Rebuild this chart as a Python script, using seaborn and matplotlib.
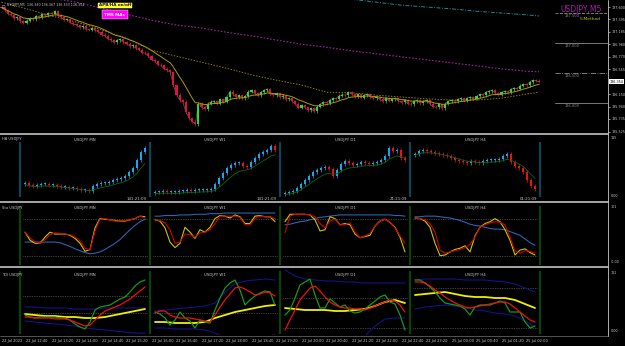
import numpy as np
import pandas as pd
import matplotlib
matplotlib.use("Agg")
import matplotlib.pyplot as plt
import matplotlib.transforms as mtrans
import seaborn as sns

# ====================== DATA ======================

# USDJPY M5 closes, 22 Jul 12:00 .. 25 Jul 02:20 (one per bar)
closes = [137.59, 137.55, 137.49, 137.47, 137.41, 137.43, 137.36, 137.34,
          137.37, 137.41, 137.40, 137.45, 137.43, 137.48, 137.46, 137.50,
          137.49, 137.53, 137.46, 137.43, 137.39, 137.40, 137.34, 137.31,
          137.30, 137.26, 137.28, 137.23, 137.22, 137.25, 137.21, 137.19,
          137.14, 137.12, 137.07, 137.05, 137.01, 137.05, 137.06, 137.01,
          136.99, 136.95, 136.96, 136.91, 136.89, 136.84, 136.83, 136.78,
          136.72, 136.70, 136.64, 136.63, 136.57, 136.55, 136.51, 136.30,
          136.14, 136.05, 136.02, 135.85, 135.75, 135.69, 135.65, 135.99,
          135.93, 135.90, 135.99, 136.02, 136.03, 135.99, 136.06, 136.02,
          136.10, 136.19, 136.15, 136.10, 136.13, 136.08, 136.11, 136.19,
          136.21, 136.16, 136.13, 136.18, 136.21, 136.23, 136.15, 136.13,
          136.16, 136.10, 136.12, 136.06, 136.08, 136.03, 135.99, 135.92,
          135.96, 135.93, 135.88, 135.91, 135.86, 135.94, 135.98, 136.01,
          136.00, 136.05, 136.08, 136.07, 136.12, 136.14, 136.13, 136.18,
          136.15, 136.11, 136.15, 136.09, 136.13, 136.15, 136.10, 136.08,
          136.10, 136.06, 136.03, 136.08, 136.04, 136.06, 136.08, 136.03,
          136.01, 136.05, 135.99, 135.98, 136.03, 136.05, 136.00, 136.03,
          136.05, 135.99, 135.94, 135.93, 135.98, 135.91, 135.99, 136.03,
          136.05, 136.03, 136.06, 136.08, 136.04, 136.08, 136.10, 136.07,
          136.11, 136.15, 136.13, 136.18, 136.20, 136.21, 136.16, 136.14,
          136.18, 136.20, 136.18, 136.23, 136.25, 136.24, 136.29, 136.31,
          136.30, 136.35, 136.38, 136.37, 136.354]

time_labels = ["22 Jul 2022", "22 Jul 12:40", "22 Jul 13:20", "22 Jul 14:00",
               "22 Jul 14:40", "22 Jul 15:20", "22 Jul 16:00", "22 Jul 16:40",
               "22 Jul 17:20", "22 Jul 18:00", "22 Jul 18:40", "22 Jul 19:20",
               "22 Jul 20:00", "22 Jul 20:40", "22 Jul 21:20", "22 Jul 22:00",
               "22 Jul 22:40", "22 Jul 23:20", "25 Jul 00:00", "25 Jul 00:40",
               "25 Jul 01:20", "25 Jul 02:00"]

# right scale labels (136.360 sits under the current-price box)
price_ticks = [137.600, 137.395, 137.185, 136.980, 136.770, 136.565,
               136.150, 135.940, 135.735, 135.525]
level_prices = [137.5, 137.0, 136.5, 136.0]

# moving averages sampled every 8 bars (last point = last bar)
slow_ma = [137.68, 137.57, 137.45, 137.35, 137.22, 137.08, 136.88, 136.78,
           136.68, 136.58, 136.47, 136.38, 136.30, 136.18, 136.17, 136.13,
           136.10, 136.07, 136.05, 136.05, 136.08, 136.15, 136.18]
magenta_ma = [137.88, 137.82, 137.75, 137.68, 137.58, 137.48, 137.38, 137.30,
              137.25, 137.18, 137.12, 137.05, 136.98, 136.93, 136.87, 136.82,
              136.77, 136.72, 136.67, 136.62, 136.57, 136.53, 136.52]
teal_ma = [137.73, 137.68, 137.63, 137.60, 137.57, 137.53, 137.50, 137.47, 137.45]

header = "USDJPY,M5  136.340 136.367 136.333 136.354"

tf_names = ["USDJPY MN", "USDJPY W1", "USDJPY D1", "USDJPY H4"]
ha_timer = ["141:21:09", "141:21:09", "21:21:09", "01:21:09"]

# mini HA charts (chart units)
ha_close = [
    [15, 13, 12, 13, 14, 14, 13, 13, 12, 11, 11, 10, 10, 9, 8, 8, 7, 12, 14, 15,
     15, 16, 18, 19, 20, 22, 26, 30, 38, 46, 50],
    [6, 6, 7, 6, 6, 6, 7, 7, 8, 7, 8, 8, 8, 8, 9, 14, 20, 25, 30, 33,
     35, 35, 32, 31, 36, 40, 44, 46, 48, 52, 48],
    [5, 6, 7, 10, 14, 18, 22, 26, 28, 30, 31, 29, 22, 28, 34, 37, 35, 33, 34, 36,
     35, 34, 35, 36, 38, 42, 50, 47, 48, 40, 38],
    [44, 47, 48, 47, 46, 45, 44, 43, 42, 40, 38, 37, 36, 35, 37, 36, 35, 37, 38, 38,
     38, 39, 42, 44, 36, 32, 30, 26, 18, 12, 9],
]

sto_yellow = [
    [58, 45, 40, 40, 50, 58, 55, 55, 55, 53, 48, 40, 27, 30, 65, 80, 79, 78, 77, 76, 76, 78, 80, 84, 83],
    [78, 76, 65, 42, 33, 40, 66, 58, 48, 62, 58, 66, 80, 85, 84, 81, 86, 83, 72, 72, 84, 85, 83, 83, 75],
    [75, 87, 87, 87, 87, 86, 78, 60, 62, 83, 80, 70, 72, 70, 55, 49, 51, 53, 68, 76, 79, 74, 66, 50, 26],
    [81, 80, 76, 66, 40, 20, 21, 26, 30, 32, 36, 26, 52, 66, 72, 75, 80, 75, 62, 45, 21, 29, 31, 25, 21],
]
sto_red = [
    [58, 49, 42, 40, 46, 54, 57, 56, 55, 54, 50, 44, 32, 29, 60, 79, 80, 78, 76, 76, 77, 78, 80, 84, 81],
    [78, 77, 73, 62, 40, 42, 55, 54, 50, 57, 58, 62, 72, 84, 84, 84, 84, 82, 70, 70, 80, 84, 83, 83, 80],
    [57, 84, 87, 87, 87, 86, 83, 72, 65, 76, 79, 70, 70, 73, 58, 49, 52, 56, 68, 76, 79, 74, 65, 52, 40],
    [81, 80, 78, 72, 58, 29, 24, 26, 28, 30, 33, 38, 50, 66, 70, 73, 75, 74, 70, 50, 28, 24, 28, 27, 24],
]
sto_blue = [
    [42, 42, 42, 42, 42, 42, 42, 41, 38, 35, 31, 28, 25, 23, 24, 26, 30, 35, 40, 46, 54, 62, 69, 75, 79],
    [84, 84, 85, 85, 85, 86, 86, 86, 87, 87, 87, 88, 88, 88, 89, 89, 89, 89, 89, 89, 89, 89, 89, 89, 89],
    [70, 71, 73, 75, 76, 78, 80, 82, 83, 84, 85, 86, 86, 86, 86, 86, 86, 86, 86, 86, 86, 86, 85, 85, 84],
    [83, 83, 84, 84, 84, 83, 82, 81, 79, 77, 74, 71, 69, 68, 66, 64, 63, 63, 62, 59, 56, 53, 47, 41, 37],
]

tdi_green = [
    [20, 18, 17, 18, 18, 18, 18, 17, 17, 15, 11, 8, 6, 13, 25, 28, 29, 30, 33, 36, 38, 43, 49, 53, 55],
    [23, 21, 17, 10, 15, 23, 17, 14, 7, 15, 13, 12, 25, 37, 47, 52, 55, 45, 30, 35, 39, 42, 44, 43, 30],
    [20, 25, 37, 50, 53, 56, 40, 27, 27, 36, 32, 28, 30, 24, 22, 23, 26, 30, 34, 38, 40, 33, 31, 20, 5],
    [55, 55, 52, 48, 43, 37, 32, 31, 30, 29, 26, 20, 28, 30, 30, 30, 32, 34, 32, 23, 23, 23, 13, 7, 9],
]
tdi_red = [
    [18, 18, 17, 17, 17, 17, 16, 16, 16, 15, 13, 11, 9, 10, 15, 20, 24, 26, 28, 30, 33, 36, 40, 44, 48],
    [22, 24, 24, 20, 18, 17, 17, 17, 16, 15, 14, 13, 20, 28, 35, 41, 47, 48, 46, 43, 40, 41, 43, 42, 39],
    [5, 15, 25, 35, 41, 47, 49, 44, 38, 33, 30, 28, 27, 27, 26, 26, 25, 27, 29, 31, 33, 35, 34, 30, 23],
    [53, 53, 52, 49, 45, 42, 38, 35, 32, 30, 28, 27, 28, 29, 30, 31, 32, 33, 33, 31, 27, 23, 19, 15, 13],
]
tdi_yellow = [
    [21, 20, 19, 19, 18, 18, 17, 17, 18, 20, 22, 24, 26],
    [13, 13, 12, 12, 12, 13, 17, 20, 23, 25, 27, 29, 30],
    [27, 26, 25, 25, 25, 24, 24, 25, 26, 29, 33, 35, 32],
    [40, 41, 42, 43, 41, 39, 38, 38, 37, 37, 35, 31, 27],
]
tdi_upper = [
    [28, 28, 27, 27, 27, 26, 26, 26, 27, 27, 27, 27, 27],
    [24, 25, 26, 27, 28, 29, 32, 43, 51, 54, 55, 56, 55],
    [65, 59, 56, 55, 54, 54, 53, 53, 52, 52, 52, 52, 52],
    [55, 56, 56, 56, 56, 55, 55, 55, 54, 53, 51, 47, 43],
]
tdi_lower = [
    [14, 13, 12, 11, 10, 9, 7, 6, 5, 4, 3, 2, 2],
    [7, 7, 6, 6, 6, 5, 2, -3, -3, -2, -1, -1, 0],
    [-10, -10, -10, -10, -10, -9, -7, -5, -1, 9, 16, 17, 17],
    [26, 28, 29, 30, 29, 27, 25, 24, 22, 21, 19, 14, 8],
]
tdi_levels = [[39, 22], [22], [37, 7], [47, 7]]

# ====================== STYLE ======================

W, H = 625, 346
sns.set_theme(style="dark", rc={"axes.facecolor": "black", "figure.facecolor": "black"})
plt.rcParams['font.family'] = ['DejaVu Sans']

BULL, BEAR = '#33d633', '#dc143c'
HA_UP, HA_DN = '#16a8ee', '#ee1010'
TXT = '#c8c8c8'
SEP = '#b4b4b4'

fig = plt.figure(figsize=(W / 100, H / 100), dpi=100, facecolor='black')


def px_axes(x0, y0, x1, y1):
    a = fig.add_axes([x0 / W, 1 - y1 / H, (x1 - x0) / W, (y1 - y0) / H])
    a.set_facecolor('black')
    for s in a.spines.values():
        s.set_visible(False)
    a.set_xticks([])
    a.set_yticks([])
    a.grid(False)
    return a


def line(a, x, y, color, lw, ls='-', z=2):
    sns.lineplot(x=x, y=y, ax=a, color=color, linewidth=lw, linestyle=ls,
                 sort=False, estimator=None, legend=False, zorder=z)


# ====================== MAIN CHART ======================

bar_px = 3.125
ax = px_axes(0, 0, 608, 132)
ax.set_xlim(-1.5 / bar_px, (608 - 1.5) / bar_px)
ax.set_ylim(135.517, 137.717)

c = np.array(closes)
o = np.r_[c[0] + 0.01, c[:-1]]
idx = np.arange(len(c))
up = c >= o
col = np.where(up, BULL, BEAR)
h = c - o
h = np.where(np.abs(h) < 0.01, np.where(up, 0.01, -0.01), h)
line(ax, idx, c, '#6e6e6e', 0.4, z=2)
ax.vlines(idx, np.minimum(o, c) - 0.025, np.maximum(o, c) + 0.025, colors=col, lw=0.5, zorder=3)
ax.bar(idx, h, bottom=o, width=0.66, color=col, linewidth=0, zorder=4)

fast = pd.Series(c).ewm(span=10).mean()
line(ax, idx, fast, '#a89a0a', 0.7, z=5)

ma_idx = list(range(0, 169, 8)) + [172]
line(ax, ma_idx, slow_ma, '#8c8000', 0.7, (0, (1.5, 1.5)))
line(ax, ma_idx, magenta_ma, '#a020a0', 0.8, (0, (1.5, 1.5)))
teal_idx = list(range(112, 169, 8)) + [172]
line(ax, teal_idx, teal_ma, '#1f8a8a', 0.7, (0, (4, 1.5, 1, 1.5)))

# round-number levels on the right
lx0, lx1 = (555 - 1.5) / bar_px, (608 - 1.5) / bar_px
for p, ls in zip(level_prices, ['--', '-', '-.', '-']):
    ax.plot([lx0, lx1], [p, p], color='#8c8c8c', lw=0.6, ls=ls)
    ax.text((565 - 1.5) / bar_px, p - 0.012, f"{p:.3f}", color='#8c8c8c',
            fontsize=2.6, va='top', ha='left')

ax.yaxis.tick_right()
ax.set_yticks(price_ticks)
ax.set_yticklabels([f"{p:.3f}" for p in price_ticks])
ax.tick_params(axis='y', colors=TXT, labelsize=2.4, length=1.5, width=0.5, pad=0.8)
trans = mtrans.blended_transform_factory(ax.transAxes, ax.transData)
ax.text(1.003, closes[-1], f"{closes[-1]:.3f}", transform=trans, fontsize=2.4,
        color='black', va='center', ha='left',
        bbox=dict(fc='white', ec='none', pad=0.3))

fig.text(2 / W, 1 - 5 / H, "\u25a1", color=TXT, fontsize=2.5, va='center')
fig.text(7 / W, 1 - 5 / H, header, color=TXT, fontsize=2.35, va='center')
fig.text(115 / W, 1 - 5.5 / H, "APB/HA on/off", color='#101060', fontsize=3,
         fontweight='bold', ha='center', va='center',
         bbox=dict(fc='#ffff00', ec='#ffffff', lw=0.3, pad=0.6))
fig.text(115 / W, 1 - 14.5 / H, "TMS MAs", color='white', fontsize=3,
         fontweight='bold', ha='center', va='center',
         bbox=dict(fc='#ff00ff', ec='#ffffff', lw=0.3, boxstyle='square,pad=0.6'))
fig.text(602 / W, 1 - 10 / H, "USDJPY,M5", color='#b01cb0', fontsize=5.5, ha='right', va='center')
fig.text(601 / W, 1 - 19.5 / H, "5-Method", color='#c8c800', fontsize=3.2, ha='right', va='center')

# ====================== HA PANEL ======================

ax2 = px_axes(0, 135, 608, 201)
ax2.set_xlim(0, 608)
ax2.set_ylim(-3, 63)
for k in range(5):
    ax2.vlines(20 + 130 * k, 1, 56, colors='#0b4656', lw=1.6)
for k in range(4):
    x0 = 25 + 130 * k
    hc = np.array(ha_close[k], float)
    ho = np.r_[hc[0] - 1, hc[:-1]]
    hx = x0 + 4 * np.arange(len(hc))
    hup = hc >= ho
    hcol = np.where(hup, HA_UP, HA_DN)
    hh = np.where(np.abs(hc - ho) < 1.2, np.where(hup, 1.2, -1.2), hc - ho)
    ax2.vlines(hx, np.minimum(ho, hc) - 1.8, np.maximum(ho, hc) + 1.8, colors=hcol, lw=0.5)
    ax2.bar(hx, hh, bottom=ho, width=2.8, color=hcol, linewidth=0)
    line(ax2, hx, pd.Series(hc).ewm(span=7).mean() - 1.5, '#0a6a0a', 0.6)
    ax2.text(x0 + 60, 57.5, tf_names[k], color=TXT, fontsize=2.8, ha='center', va='center')
    ax2.text(x0 + 122, -0.5, ha_timer[k], color=TXT, fontsize=2.8, ha='right', va='center')
ax2.text(2, 59, "HA USDJPY", color=TXT, fontsize=2.6, va='center')

# ====================== STO PANEL ======================

ax3 = px_axes(0, 203, 608, 266)
ax3.set_xlim(0, 608)
ax3.set_ylim(3.2, 105.3)
for k in range(5):
    ax3.vlines(20 + 130 * k, 5, 100, colors='#0b420b', lw=1.6)
for k in range(4):
    x0 = 25 + 130 * k
    sx = x0 + 5 * np.arange(25)
    ax3.hlines([80, 20], x0 - 2, x0 + 122, colors='#7a7a7a', linestyles=(0, (1, 1.5)), lw=0.5)
    line(ax3, sx, sto_blue[k], '#2a64b4', 0.8)
    line(ax3, sx, sto_yellow[k], '#c8c800', 0.8)
    line(ax3, sx, sto_red[k], '#d00000', 0.8)
    ax3.text(x0 + 60, 98, tf_names[k], color=TXT, fontsize=2.8, ha='center', va='center')
ax3.text(2, 98, "Sto USDJPY", color=TXT, fontsize=2.6, va='center')

# ====================== TDI PANEL ======================

ax4 = px_axes(0, 268, 608, 335)
ax4.set_xlim(0, 608)
ax4.set_ylim(0, 67)
for k in range(5):
    ax4.vlines(20 + 130 * k, 1, 64, colors='#0b420b', lw=1.6)
for k in range(4):
    x0 = 25 + 130 * k
    gx = x0 + 5 * np.arange(25)
    yx = x0 + 10 * np.arange(13)
    ax4.hlines(tdi_levels[k], x0 - 2, x0 + 122, colors='#7a7a7a', linestyles=(0, (1, 1.5)), lw=0.5)
    line(ax4, yx, tdi_upper[k], '#12128c', 0.8)
    line(ax4, yx, tdi_lower[k], '#12128c', 0.8)
    line(ax4, yx, tdi_yellow[k], '#f0f000', 1.3)
    line(ax4, gx, tdi_green[k], '#159a15', 0.9)
    line(ax4, gx, tdi_red[k], '#f01010', 0.9)
    ax4.text(x0 + 60, 60, tf_names[k], color=TXT, fontsize=2.8, ha='center', va='center')
ax4.text(2, 60, "TDI USDJPY", color=TXT, fontsize=2.6, va='center')

# time axis under the last panel (main chart bar scale)
axt = px_axes(0, 268, 608, 335)
axt.patch.set_alpha(0)
axt.set_xlim(-1.5 / bar_px, (608 - 1.5) / bar_px)
tick_idx = list(range(0, 169, 8))
axt.set_xticks(tick_idx)
axt.set_xticklabels(time_labels)
axt.tick_params(axis='x', colors=TXT, labelsize=2.6, length=1.5, width=0.4, pad=1.5)
for lab in axt.get_xticklabels():
    lab.set_ha('left')

# ====================== FRAME ======================

for yy in [133.5, 202, 267]:
    fig.add_artist(plt.Line2D([0, 608 / W], [1 - yy / H] * 2, color=SEP, lw=1.3))
fig.add_artist(plt.Line2D([0, 608 / W], [1 - 335.5 / H] * 2, color='#909090', lw=0.4))
fig.add_artist(plt.Line2D([608 / W] * 2, [1 - 336 / H, 1], color=TXT, lw=0.6))

for yy, s in [(138, "115"), (196, "0.00"), (207, "101"), (262, "-0.00"),
              (273, "111"), (331, "0.00")]:
    fig.text(611 / W, 1 - yy / H, s, color=TXT, fontsize=2.4, va='center')

plt.savefig("out.png", dpi=100, facecolor='black')
